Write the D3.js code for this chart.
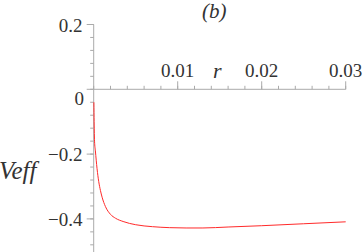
<!DOCTYPE html>
<html>
<head>
<meta charset="utf-8">
<script src="https://cdn.jsdelivr.net/npm/d3@7"></script>
</head>
<body style="margin:0; background:#fff">
<div id="chart"></div>
<script>
// values
var rValues = [0.00002, 0.00005, 0.0001, 0.0002, 0.0004, 0.0006, 0.0008, 0.001, 0.0014,
               0.002, 0.0026, 0.0035, 0.005, 0.007, 0.009, 0.011, 0.013, 0.016, 0.02, 0.025, 0.03];
var veffValues = [-0.04, -0.10, -0.16, -0.19, -0.245, -0.285, -0.312, -0.333, -0.362,
                  -0.386, -0.398, -0.408, -0.418, -0.424, -0.427, -0.428, -0.428, -0.425, -0.421, -0.415, -0.409];
var xMajorTicks = [0.01, 0.02, 0.03];
var xMajorLabels = ["0.01", "0.02", "0.03"];
var yMajorTicks = [0.2, 0, -0.2, -0.4];
var yMajorLabels = ["0.2", "0", "\u22120.2", "\u22120.4"];

var width = 363, height = 252;
var fontName = "Liberation Serif";
var textColor = "#333";
var axisColor = "#aaa";

var svg = d3.select("#chart").append("svg")
    .attr("width", width)
    .attr("height", height)
    .attr("font-family", fontName);

var x = d3.scaleLinear().domain([0, 0.03]).range([93.7, 345.7]);
var y = d3.scaleLinear().domain([-0.5, 0.2]).range([251.3, 24.5]);

// minor ticks
var xMinor = d3.range(0, 0.0301, 0.002);
var yMinor = d3.range(-0.48, 0.201, 0.04);

// x axis (ticks point up, labels above)
var gx = svg.append("g");
gx.append("line")
    .attr("x1", x(0)).attr("x2", x(0.03))
    .attr("y1", y(0)).attr("y2", y(0))
    .attr("stroke", axisColor);
gx.selectAll("line.minor")
    .data(xMinor)
    .enter().append("line")
    .attr("class", "minor")
    .attr("x1", d => x(d)).attr("x2", d => x(d))
    .attr("y1", y(0)).attr("y2", y(0) - 3.5)
    .attr("stroke", axisColor);
gx.selectAll("line.major")
    .data(xMajorTicks)
    .enter().append("line")
    .attr("class", "major")
    .attr("x1", d => x(d)).attr("x2", d => x(d))
    .attr("y1", y(0)).attr("y2", y(0) - 8)
    .attr("stroke", axisColor);
gx.selectAll("text")
    .data(xMajorTicks)
    .enter().append("text")
    .attr("x", d => x(d))
    .attr("y", 77)
    .attr("text-anchor", "middle")
    .attr("font-family", fontName)
    .attr("font-size", 19)
    .attr("fill", textColor)
    .text((d, i) => xMajorLabels[i]);

// y axis (ticks point left)
var gy = svg.append("g");
gy.append("line")
    .attr("x1", x(0)).attr("x2", x(0))
    .attr("y1", y(0.2)).attr("y2", height)
    .attr("stroke", axisColor);
gy.selectAll("line.minor")
    .data(yMinor)
    .enter().append("line")
    .attr("class", "minor")
    .attr("x1", x(0)).attr("x2", x(0) - 3.5)
    .attr("y1", d => y(d)).attr("y2", d => y(d))
    .attr("stroke", axisColor);
gy.selectAll("line.major")
    .data(yMajorTicks)
    .enter().append("line")
    .attr("class", "major")
    .attr("x1", x(0)).attr("x2", x(0) - 7)
    .attr("y1", d => y(d)).attr("y2", d => y(d))
    .attr("stroke", axisColor);
gy.selectAll("text")
    .data(yMajorTicks)
    .enter().append("text")
    .attr("x", d => d === 0 ? 84 : 82.5)
    .attr("y", d => y(d) + (d === 0 ? 16 : 7))
    .attr("text-anchor", "end")
    .attr("font-family", fontName)
    .attr("font-size", 19)
    .attr("fill", textColor)
    .text((d, i) => yMajorLabels[i]);

// curve
var line = d3.line()
    .x(d => x(d[0]))
    .y(d => y(d[1]))
    .curve(d3.curveMonotoneX);

svg.append("path")
    .datum(d3.zip(rValues, veffValues))
    .attr("d", line)
    .attr("fill", "none")
    .attr("stroke", "#ff2a2a")
    .attr("stroke-width", 1);

// labels
function label(txt, px, py, size, anchor) {
  svg.append("text")
      .attr("x", px).attr("y", py)
      .attr("text-anchor", anchor)
      .attr("font-family", fontName)
      .attr("font-size", size)
      .attr("font-style", "italic")
      .attr("fill", textColor)
      .text(txt);
}
label("r", 213, 78, 22, "start");
label("Veff", 36.5, 179, 25, "end");
label("(b)", 202, 18, 21, "start");
</script>
</body>
</html>
